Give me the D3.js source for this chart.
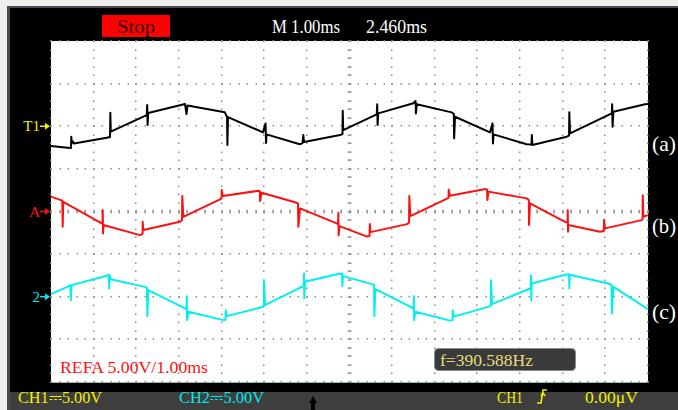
<!DOCTYPE html>
<html>
<head>
<meta charset="utf-8">
<script src="https://cdn.jsdelivr.net/npm/d3@7/dist/d3.min.js"></script>
<style>
  html, body { margin: 0; padding: 0; background: #000; }
  svg { display: block; }
</style>
</head>
<body>
<svg id="scope" width="678" height="410"></svg>
<script>
// Captured traces: [time (ms), voltage (V) relative to the channel marker]
const ch1Trace = [
  [0.000,-2.32],[0.446,-2.56],[0.469,-2.56],[0.476,-1.23],[0.488,-1.97],[0.516,-1.79],[0.539,-2.03],
  [1.306,-1.35],[1.384,-1.27],[1.391,1.58],[1.402,-0.64],
  [2.244,1.31],[2.256,2.49],[2.265,0.14],[2.280,1.55],
  [3.143,2.60],[3.178,1.43],[3.201,2.43],
  [4.076,1.63],[4.128,1.08],[4.137,-2.20],[4.151,1.08],
  [4.972,-0.72],[5.031,0.32],[5.043,-1.97],[5.054,-0.95],
  [5.833,-2.12],[5.898,-1.97],[5.917,-1.03],[5.933,-1.85],
  [6.778,-1.03],[6.836,-0.92],[6.841,1.82],[6.853,-0.45],
  [7.638,1.40],[7.650,2.57],[7.659,0.14],[7.674,1.51],
  [8.497,2.69],[8.549,2.96],[8.558,1.51],[8.577,2.57],
  [9.397,1.63],[9.447,1.43],[9.454,-1.42],[9.475,1.11],
  [10.296,-0.72],[10.354,0.34],[10.364,-2.01],[10.378,-0.95],
  [11.156,-2.12],[11.269,-2.15],[11.276,-1.03],[11.288,-2.20],
  [12.094,-1.23],[12.148,-1.09],[12.155,1.63],[12.172,-0.83],
  [13.150,1.51],[13.160,2.57],[13.169,-0.06],[13.188,1.70],
  [13.931,2.57],[14.000,2.60]
];
const refaTrace = [
  [0.000,1.75],[0.265,1.28],[0.274,-1.79],[0.288,1.14],
  [1.189,-1.40],[1.208,-1.45],[1.213,0.16],[1.220,-2.57],[1.231,-1.59],
  [2.087,-2.77],[2.146,-2.65],[2.150,-1.21],[2.165,-2.18],
  [3.025,-1.21],[3.072,-1.01],[3.079,1.81],[3.103,-0.62],
  [3.963,1.42],[3.999,1.57],[4.003,2.51],[4.027,1.81],
  [4.862,2.43],[4.897,2.39],[4.902,1.22],[4.941,2.19],
  [5.762,1.02],[5.793,0.93],[5.800,-1.79],[5.840,0.36],
  [6.700,-1.40],[6.731,-1.48],[6.738,-0.15],[6.745,-2.77],[6.766,-1.71],
  [7.411,-2.94],[7.470,-2.88],[7.477,-1.48],[7.493,-2.42],
  [8.349,-1.48],[8.396,-1.30],[8.403,1.81],[8.426,-0.54],
  [9.287,1.51],[9.322,1.63],[9.327,2.57],[9.350,1.86],
  [10.190,2.63],[10.225,2.57],[10.232,1.34],[10.260,2.33],
  [11.156,1.54],[11.205,1.34],[11.210,-1.59],[11.233,0.95],
  [12.054,-1.21],[12.113,-1.30],[12.118,0.16],[12.125,-2.38],[12.132,-1.59],
  [12.875,-2.38],[12.962,-2.30],[12.969,-1.01],[12.992,-1.98],
  [13.853,-1.01],[13.872,-0.89],[13.877,1.92],[13.891,-0.62],[14.000,-0.42]
];
const ch2Trace = [
  [0.000,0.30],[0.446,1.30],[0.457,1.36],[0.464,-0.40],[0.485,1.36],
  [1.306,2.47],[1.356,2.59],[1.363,0.97],[1.372,2.53],[1.400,2.06],
  [2.204,1.16],[2.251,1.01],[2.258,-2.27],[2.282,0.77],
  [3.143,-1.37],[3.178,-1.45],[3.183,0.07],[3.190,-2.74],[3.220,-1.77],
  [4.041,-2.74],[4.093,-2.69],[4.098,-1.57],[4.121,-2.27],
  [4.979,-1.18],[4.991,-1.10],[4.995,1.95],[5.019,-0.98],
  [5.880,1.16],[5.926,1.24],[5.933,2.73],[5.940,-0.16],[5.957,1.75],
  [6.778,2.73],[6.825,2.71],[6.832,1.24],[6.848,2.42],
  [7.528,1.48],[7.575,1.36],[7.582,-2.27],[7.606,0.89],
  [8.466,-1.28],[8.502,-1.40],[8.509,0.07],[8.516,-2.74],[8.544,-1.75],
  [9.357,-2.80],[9.416,-2.74],[9.421,-1.57],[9.445,-2.33],
  [10.273,-1.16],[10.314,-1.05],[10.319,1.95],[10.342,-0.87],
  [11.233,0.97],[11.251,1.01],[11.257,2.53],[11.263,-0.40],[11.273,1.56],
  [12.014,2.53],[12.148,2.65],[12.155,0.97],[12.162,2.59],[12.211,2.53],
  [13.069,1.56],[13.145,1.42],[13.150,-1.96],[13.188,1.16],
  [13.971,-1.37],[14.000,-1.45]
];

// Channel setup: name, marker label, vertical offset (V), colour, trace
const channelNames   = ["CH1", "REFA", "CH2"];
const markerLabels   = ["T1", "A", "2"];
const channelOffsets = [10, 0, -10];
const channelColors  = ["#000000", "#ff1010", "#00f0f0"];
const channelTraces  = [ch1Trace, refaTrace, ch2Trace];
const sideLabels     = ["(a)", "(b)", "(c)"];

// Screen settings
const timeDomain = [0, 14];      // 14 divisions at 1.00 ms/div
const voltDomain = [-20, 20];    // 8 divisions at 5.00 V/div
const headerTexts = ["Stop", "M 1.00ms", "2.460ms"];
const footerTexts = ["CH1\u23935.00V", "CH2\u23935.00V", "CH1", "0.00\u03bcV"];
const refaText = "REFA 5.00V/1.00ms";
const freqText = "f=390.588Hz";

const svg = d3.select("#scope");
const W = 678, H = 410;
const plot = { left: 51, right: 648, top: 41, bottom: 382 };

const x = d3.scaleLinear().domain(timeDomain).range([plot.left, plot.right]);
const y = d3.scaleLinear().domain(voltDomain).range([plot.bottom, plot.top]);

const serif = "'Liberation Serif', 'DejaVu Serif', serif";

// Bezel
svg.append("rect").attr("width", W).attr("height", H).attr("fill", "#000");
svg.append("rect").attr("x", 0).attr("y", 0).attr("width", W).attr("height", 6).attr("fill", "#eeeeee");
svg.append("rect").attr("x", 0).attr("y", 0).attr("width", 7).attr("height", H).attr("fill", "#eeeeee");
svg.append("rect").attr("x", 7).attr("y", 6).attr("width", W - 7).attr("height", 2).attr("fill", "#4a4a55");
svg.append("rect").attr("x", 7).attr("y", 6).attr("width", 3).attr("height", H - 6).attr("fill", "#4a4a55");
svg.append("rect").attr("x", 10).attr("y", 392).attr("width", W - 10).attr("height", H - 392).attr("fill", "#3e3e3e");

// Graticule area
svg.append("rect")
  .attr("x", plot.left).attr("y", plot.top)
  .attr("width", plot.right - plot.left).attr("height", plot.bottom - plot.top)
  .attr("fill", "#ffffff");
svg.append("line")
  .attr("x1", plot.left).attr("x2", plot.right)
  .attr("y1", plot.bottom + 0.5).attr("y2", plot.bottom + 0.5)
  .attr("stroke", "#9fb9b9").attr("stroke-width", 1);

const grid = svg.append("g").attr("fill", "#8c8c8c");
const tMajor = d3.range(timeDomain[0], timeDomain[1] + 0.001, 1);
const vMajor = d3.range(voltDomain[0], voltDomain[1] + 0.001, 5);
const tMinor = d3.range(timeDomain[0], timeDomain[1] + 0.001, 0.2);
const vMinor = d3.range(voltDomain[0], voltDomain[1] + 0.001, 1);

// dotted division lines
tMajor.forEach(t => {
  vMinor.forEach(v => {
    grid.append("rect").attr("x", Math.round(x(t)) - 1).attr("y", Math.round(y(v)) - 0.5)
      .attr("width", 1.5).attr("height", 1.5);
  });
});
vMajor.forEach(v => {
  tMinor.forEach(t => {
    grid.append("rect").attr("x", Math.round(x(t)) - 0.5).attr("y", Math.round(y(v)) - 1)
      .attr("width", 1.5).attr("height", 1.5);
  });
});
// centre axes carry small tick marks
const cx = x((timeDomain[0] + timeDomain[1]) / 2), cy = y(0);
vMinor.forEach(v => {
  grid.append("rect").attr("x", cx - 2).attr("y", Math.round(y(v)) - 0.5).attr("width", 4).attr("height", 1.2);
});
tMinor.forEach(t => {
  grid.append("rect").attr("x", Math.round(x(t)) - 0.5).attr("y", cy - 2).attr("width", 1.2).attr("height", 4);
});

// Traces
const line = d3.line().x(d => x(d[0]));
channelTraces.forEach((trace, i) => {
  svg.append("path")
    .datum(trace)
    .attr("d", line.y(d => y(d[1] + channelOffsets[i])))
    .attr("fill", "none")
    .attr("stroke", channelColors[i])
    .attr("stroke-width", 2)
    .attr("stroke-linejoin", "round");
});

// Channel markers on the left
const markerColors = ["#f0f000", "#ff1010", "#00e8e8"];
markerLabels.forEach((lab, i) => {
  const my = y(channelOffsets[i]);
  const g = svg.append("g").attr("fill", markerColors[i]).attr("stroke", markerColors[i]);
  g.append("text")
    .attr("x", 40).attr("y", my + 5)
    .attr("text-anchor", "end")
    .attr("font-family", serif).attr("font-size", 15)
    .attr("stroke", "none")
    .text(lab);
  g.append("line").attr("x1", 40).attr("x2", 46).attr("y1", my).attr("y2", my).attr("stroke-width", 1.5);
  g.append("path").attr("d", `M45,${my - 3.5}L50,${my}L45,${my + 3.5}Z`).attr("stroke", "none");
});

// Side labels
sideLabels.forEach((lab, i) => {
  svg.append("text")
    .attr("x", 652).attr("y", y(channelOffsets[i]) + [25, 21, 22][i])
    .attr("font-family", serif).attr("font-size", 22)
    .attr("fill", "#ffffff")
    .attr("textLength", 24).attr("lengthAdjust", "spacingAndGlyphs")
    .text(lab);
});

// Header
svg.append("rect").attr("x", 102).attr("y", 15).attr("width", 68).attr("height", 22).attr("fill", "#ff0000");
svg.append("text").attr("x", 136).attr("y", 33).attr("text-anchor", "middle")
  .attr("font-family", serif).attr("font-size", 18).attr("fill", "#300000")
  .attr("textLength", 38).attr("lengthAdjust", "spacingAndGlyphs")
  .text(headerTexts[0]);
svg.append("text").attr("x", 272).attr("y", 33)
  .attr("font-family", serif).attr("font-size", 18).attr("fill", "#ffffff")
  .attr("textLength", 68).attr("lengthAdjust", "spacingAndGlyphs")
  .text(headerTexts[1]);
svg.append("text").attr("x", 366).attr("y", 33)
  .attr("font-family", serif).attr("font-size", 18).attr("fill", "#ffffff")
  .attr("textLength", 61).attr("lengthAdjust", "spacingAndGlyphs")
  .text(headerTexts[2]);

// Reference waveform caption
svg.append("text").attr("x", 60).attr("y", 373)
  .attr("font-family", serif).attr("font-size", 17).attr("fill", "#ff1010")
  .attr("textLength", 148).attr("lengthAdjust", "spacingAndGlyphs")
  .text(refaText);

// Frequency readout
svg.append("rect").attr("x", 434.5).attr("y", 348.5).attr("width", 141).attr("height", 22).attr("rx", 4)
  .attr("fill", "#3a3a3a").attr("stroke", "#8a8a8a").attr("stroke-width", 1);
svg.append("text").attr("x", 440).attr("y", 366)
  .attr("font-family", serif).attr("font-size", 17).attr("fill", "#e6dc80")
  .attr("textLength", 93).attr("lengthAdjust", "spacingAndGlyphs")
  .text(freqText);

// Footer readouts
const footer = [
  { t: footerTexts[0], x: 18, w: 84, c: "#f0f000" },
  { t: footerTexts[1], x: 179, w: 85, c: "#00e8e8" },
  { t: footerTexts[2], x: 497, w: 26, c: "#f0f000" },
  { t: footerTexts[3], x: 585, w: 53, c: "#f0f000" }
];
footer.forEach(f => {
  svg.append("text").attr("x", f.x).attr("y", 403)
    .attr("font-family", serif).attr("font-size", 17).attr("fill", f.c)
    .attr("textLength", f.w).attr("lengthAdjust", "spacingAndGlyphs")
    .text(f.t);
});
// rising-edge trigger symbol
svg.append("path")
  .attr("d", "M537,403 L541,403 L543,390 L547,390 M541,396 L543,393 L545,396")
  .attr("fill", "none").attr("stroke", "#f0f000").attr("stroke-width", 1.6);

// trigger position marker
svg.append("path")
  .attr("d", "M313,396 L317,403 L309,403 Z M311,403 L315,403 L315,410 L311,410 Z")
  .attr("fill", "#000000");
</script>
</body>
</html>
